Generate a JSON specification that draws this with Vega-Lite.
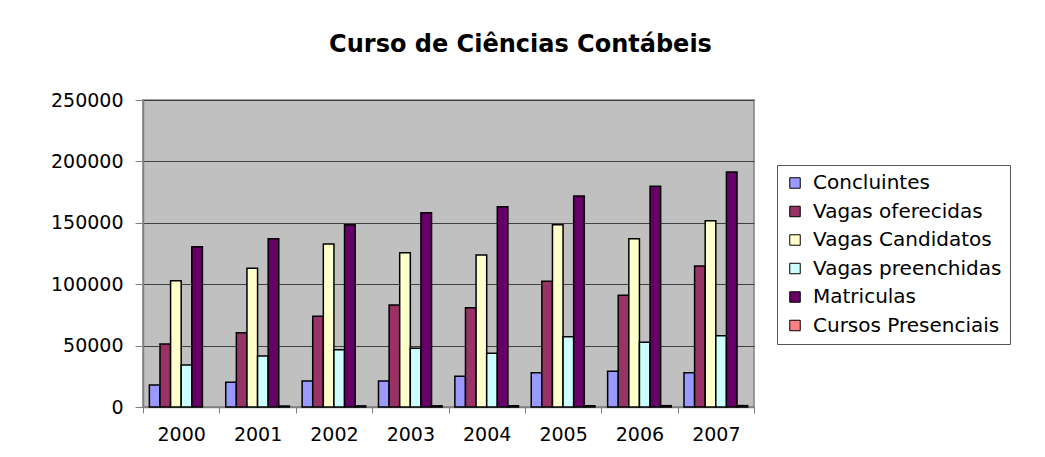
{
  "$schema": "https://vega.github.io/schema/vega-lite/v6.json",
  "width": 611,
  "height": 307,
  "autosize": {"type": "none"},
  "padding": {"left": 143, "top": 100, "right": 291, "bottom": 50},
  "background": "white",
  "title": {
    "text": "Curso de Ciências Contábeis",
    "font": "DejaVu Sans",
    "fontSize": 24,
    "fontWeight": "bold",
    "color": "black",
    "anchor": "middle",
    "baseline": "alphabetic",
    "offset": 15,
    "dx": 72
  },
  "config": {
    "view": {"fill": "#C0C0C0", "stroke": "#808080", "strokeWidth": 1.5},
    "axis": {"labelFont": "DejaVu Sans", "labelFontSize": 19, "labelColor": "black", "domainColor": "#808080", "tickColor": "#808080", "domainWidth": 1.5, "tickWidth": 1}
  },
  "data": {
    "values": [
      {"ano": "2000", "serie": "Concluintes", "valor": 17900},
      {"ano": "2000", "serie": "Vagas oferecidas", "valor": 51300},
      {"ano": "2000", "serie": "Vagas Candidatos", "valor": 102900},
      {"ano": "2000", "serie": "Vagas preenchidas", "valor": 34200},
      {"ano": "2000", "serie": "Matriculas", "valor": 130500},
      {"ano": "2001", "serie": "Concluintes", "valor": 20100},
      {"ano": "2001", "serie": "Vagas oferecidas", "valor": 60500},
      {"ano": "2001", "serie": "Vagas Candidatos", "valor": 113000},
      {"ano": "2001", "serie": "Vagas preenchidas", "valor": 41500},
      {"ano": "2001", "serie": "Matriculas", "valor": 137000},
      {"ano": "2001", "serie": "Cursos Presenciais", "valor": 800},
      {"ano": "2002", "serie": "Concluintes", "valor": 21200},
      {"ano": "2002", "serie": "Vagas oferecidas", "valor": 73900},
      {"ano": "2002", "serie": "Vagas Candidatos", "valor": 132700},
      {"ano": "2002", "serie": "Vagas preenchidas", "valor": 46700},
      {"ano": "2002", "serie": "Matriculas", "valor": 148500},
      {"ano": "2002", "serie": "Cursos Presenciais", "valor": 900},
      {"ano": "2003", "serie": "Concluintes", "valor": 21200},
      {"ano": "2003", "serie": "Vagas oferecidas", "valor": 83000},
      {"ano": "2003", "serie": "Vagas Candidatos", "valor": 125600},
      {"ano": "2003", "serie": "Vagas preenchidas", "valor": 47800},
      {"ano": "2003", "serie": "Matriculas", "valor": 158200},
      {"ano": "2003", "serie": "Cursos Presenciais", "valor": 950},
      {"ano": "2004", "serie": "Concluintes", "valor": 25000},
      {"ano": "2004", "serie": "Vagas oferecidas", "valor": 80900},
      {"ano": "2004", "serie": "Vagas Candidatos", "valor": 123800},
      {"ano": "2004", "serie": "Vagas preenchidas", "valor": 43700},
      {"ano": "2004", "serie": "Matriculas", "valor": 163100},
      {"ano": "2004", "serie": "Cursos Presenciais", "valor": 1000},
      {"ano": "2005", "serie": "Concluintes", "valor": 27900},
      {"ano": "2005", "serie": "Vagas oferecidas", "valor": 102400},
      {"ano": "2005", "serie": "Vagas Candidatos", "valor": 148500},
      {"ano": "2005", "serie": "Vagas preenchidas", "valor": 57200},
      {"ano": "2005", "serie": "Matriculas", "valor": 171800},
      {"ano": "2005", "serie": "Cursos Presenciais", "valor": 1050},
      {"ano": "2006", "serie": "Concluintes", "valor": 29100},
      {"ano": "2006", "serie": "Vagas oferecidas", "valor": 91000},
      {"ano": "2006", "serie": "Vagas Candidatos", "valor": 137000},
      {"ano": "2006", "serie": "Vagas preenchidas", "valor": 52700},
      {"ano": "2006", "serie": "Matriculas", "valor": 179700},
      {"ano": "2006", "serie": "Cursos Presenciais", "valor": 1100},
      {"ano": "2007", "serie": "Concluintes", "valor": 27900},
      {"ano": "2007", "serie": "Vagas oferecidas", "valor": 114800},
      {"ano": "2007", "serie": "Vagas Candidatos", "valor": 151700},
      {"ano": "2007", "serie": "Vagas preenchidas", "valor": 58100},
      {"ano": "2007", "serie": "Matriculas", "valor": 191400},
      {"ano": "2007", "serie": "Cursos Presenciais", "valor": 1150}
    ]
  },
  "mark": {"type": "bar", "stroke": "black", "strokeWidth": 1.5},
  "encoding": {
    "x": {
      "field": "ano",
      "type": "nominal",
      "scale": {"paddingInner": 0, "paddingOuter": 0},
      "axis": {"title": null, "labelAngle": 0, "tickBand": "extent", "tickSize": 6, "labelPadding": 12, "grid": false}
    },
    "xOffset": {
      "field": "serie",
      "type": "nominal",
      "sort": ["Concluintes", "Vagas oferecidas", "Vagas Candidatos", "Vagas preenchidas", "Matriculas", "Cursos Presenciais"],
      "scale": {"paddingInner": 0, "paddingOuter": 0.6}
    },
    "y": {
      "field": "valor",
      "type": "quantitative",
      "scale": {"domain": [0, 250000], "nice": false},
      "axis": {"title": null, "values": [0, 50000, 100000, 150000, 200000, 250000], "format": "d", "tickSize": 8, "labelPadding": 12, "grid": true, "gridColor": "#404040", "gridWidth": 1.2, "gridOpacity": 1}
    },
    "color": {
      "field": "serie",
      "type": "nominal",
      "scale": {
        "domain": ["Concluintes", "Vagas oferecidas", "Vagas Candidatos", "Vagas preenchidas", "Matriculas", "Cursos Presenciais"],
        "range": ["#9999FF", "#993366", "#FFFFCC", "#CCFFFF", "#660066", "#FF8080"]
      },
      "legend": {
        "title": null,
        "orient": "none",
        "legendX": 634,
        "legendY": 65,
        "symbolType": "square",
        "symbolSize": 110,
        "symbolStrokeColor": "black",
        "symbolStrokeWidth": 1,
        "symbolOpacity": 1,
        "labelFont": "DejaVu Sans",
        "labelFontSize": 20,
        "labelColor": "black",
        "labelOffset": 8,
        "rowPadding": 8.5,
        "padding": 8,
        "strokeColor": "#555555",
        "fillColor": "white",
        "labelLimit": 400
      }
    }
  }
}
